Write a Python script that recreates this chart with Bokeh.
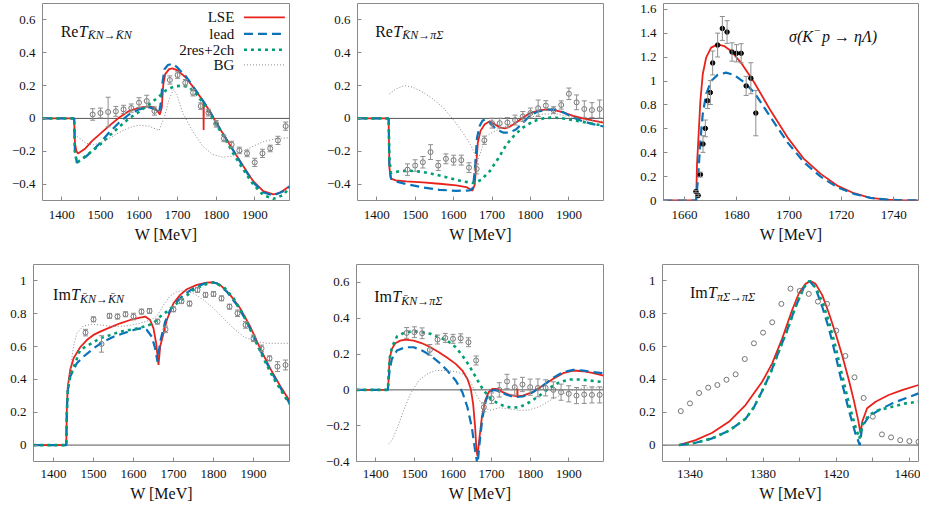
from bokeh.plotting import figure
from bokeh.models import (ColumnDataSource, Whisker, TeeHead, Span, Label, Arrow,
                          FixedTicker, Range1d)
from bokeh.layouts import row, column
from bokeh.embed import file_html
from bokeh.resources import INLINE

# ===================== DATA =====================
SERIES = ["LSE", "lead", "2res+2ch", "BG"]
W_GRID_PTS = [1480, 1500, 1520, 1540, 1560, 1580, 1600, 1620, 1640, 1660, 1680, 1700, 1720,
              1740, 1760, 1780, 1800, 1820, 1840, 1860, 1880, 1900, 1920, 1940, 1960, 1980]

# ---- Panel A: Re T(KbarN -> KbarN)
A_LSE_X = [1350, 1432, 1434, 1438, 1442, 1461, 1478, 1500, 1522, 1548, 1574, 1600, 1626, 1639, 1648,
           1654, 1659, 1663, 1668, 1678, 1687, 1700, 1722, 1743, 1765, 1767, 1767.5, 1768, 1783, 1800,
           1822, 1843, 1870, 1896, 1922, 1948, 1965, 1990]
A_LSE_Y = [0, 0, -0.15, -0.2, -0.213, -0.183, -0.138, -0.093, -0.047, 0.004, 0.045, 0.065, 0.073, 0.069, 0.045,
           0.024, 0.065, 0.207, 0.27, 0.30, 0.305, 0.293, 0.248, 0.183, 0.11, 0.105, -0.071, 0.1, 0.045, -0.026,
           -0.108, -0.189, -0.29, -0.382, -0.443, -0.463, -0.453, -0.413]
A_LEAD_X = [1350, 1432, 1434, 1439, 1461, 1478, 1500, 1522, 1548, 1574, 1600, 1626, 1643, 1652, 1657,
            1661, 1666, 1675, 1687, 1700, 1722, 1743, 1765, 1783, 1800, 1822, 1843, 1870, 1896, 1922,
            1948, 1974, 1990]
A_LEAD_Y = [0, 0, -0.2, -0.27, -0.236, -0.2, -0.148, -0.087, -0.026, 0.024, 0.055, 0.069, 0.055, 0.035, 0.1,
            0.22, 0.3, 0.325, 0.333, 0.309, 0.255, 0.185, 0.11, 0.045, -0.026, -0.11, -0.19, -0.295, -0.39, -0.45,
            -0.47, -0.443, -0.415]
A_2RES_X = [1350, 1432, 1434, 1439, 1478, 1500, 1522, 1548, 1574, 1600, 1626, 1648, 1670, 1691, 1713,
            1730, 1748, 1765, 1783, 1800, 1822, 1843, 1870, 1896, 1922, 1948, 1974, 1990]
A_2RES_Y = [0, 0, -0.2, -0.27, -0.2, -0.158, -0.108, -0.053, 0, 0.039, 0.085, 0.126, 0.171, 0.195, 0.2,
            0.19, 0.15, 0.096, 0.03, -0.037, -0.12, -0.209, -0.311, -0.402, -0.467, -0.49, -0.467, -0.42]
A_BG_X = [1434, 1461, 1478, 1500, 1522, 1548, 1574, 1600, 1626, 1652, 1665, 1678, 1689, 1698, 1713,
          1739, 1765, 1791, 1817, 1843, 1870, 1896, 1922, 1957, 1990]
A_BG_Y = [-0.1, -0.148, -0.163, -0.148, -0.122, -0.087, -0.057, -0.041, -0.047, -0.073, 0.004, 0.116, 0.175, 0.146, 0.035,
          -0.077, -0.169, -0.22, -0.236, -0.23, -0.2, -0.169, -0.142, -0.122, -0.118]
A_PTS_X = [w for w in W_GRID_PTS if w != 1660]
A_PTS_Y = [0.024, 0.033, 0.039, 0.043, 0.055, 0.063, 0.096, 0.106, 0.045, 0.234, 0.264, 0.217, 0.157,
           0.075, 0.035, -0.033, -0.122, -0.159, -0.195, -0.213, -0.268, -0.213, -0.183, -0.134, -0.047]
A_PTS_E = [0.035, 0.03, 0.09, 0.03, 0.025, 0.025, 0.03, 0.035, 0.025, 0.025, 0.02, 0.02, 0.02,
           0.02, 0.02, 0.02, 0.02, 0.02, 0.02, 0.02, 0.025, 0.025, 0.02, 0.025, 0.025]

# ---- Panel B: Re T(KbarN -> pi Sigma)
B_LSE_X = [1350, 1431, 1433, 1437, 1450, 1477, 1520, 1563, 1607, 1633, 1649, 1655, 1659, 1663, 1670,
           1681, 1694, 1707, 1720, 1733, 1746, 1763, 1781, 1798, 1820, 1842, 1863, 1885, 1911, 1937, 1963, 1990]
B_LSE_Y = [0, 0, -0.3, -0.367, -0.377, -0.384, -0.39, -0.398, -0.408, -0.418, -0.44, -0.404, -0.281, -0.148, -0.076,
           -0.035, -0.018, -0.035, -0.055, -0.06, -0.051, -0.025, 0.006, 0.031, 0.047, 0.055, 0.051, 0.037, 0.016, 0,
           -0.014, -0.025]
B_LEAD_X = [1350, 1431, 1433, 1437, 1450, 1477, 1520, 1563, 1607, 1642, 1650, 1655, 1661, 1668, 1675,
            1683, 1694, 1711, 1729, 1746, 1763, 1781, 1798, 1820, 1842, 1863, 1885, 1911, 1937, 1963, 1990]
B_LEAD_Y = [0, 0, -0.3, -0.367, -0.384, -0.4, -0.42, -0.435, -0.441, -0.439, -0.425, -0.322, -0.117, -0.045, -0.014,
            -0.004, -0.025, -0.066, -0.086, -0.086, -0.066, -0.025, 0.016, 0.043, 0.053, 0.053, 0.037, 0.006, -0.018,
            -0.035, -0.049]
B_2RES_X = [1350, 1431, 1433, 1437, 1459, 1485, 1520, 1555, 1590, 1624, 1655, 1672, 1694, 1716, 1737,
            1759, 1781, 1807, 1833, 1859, 1885, 1920, 1955, 1990]
B_2RES_Y = [0, 0, -0.25, -0.332, -0.322, -0.318, -0.326, -0.343, -0.363, -0.384, -0.394, -0.373, -0.322, -0.244, -0.162,
            -0.1, -0.055, -0.018, 0, 0.006, 0, -0.014, -0.029, -0.045]
B_BG_X = [1433, 1450, 1472, 1494, 1520, 1546, 1572, 1598, 1624, 1646, 1663, 1677, 1685, 1703, 1729,
          1763, 1798, 1833, 1868, 1903, 1937, 1990]
B_BG_Y = [0.15, 0.18, 0.2, 0.19, 0.16, 0.119, 0.068, -0.004, -0.086, -0.168, -0.26, -0.158, -0.107, -0.082, -0.055,
          -0.025, 0.006, 0.027, 0.027, 0.01, -0.01, -0.018]
B_PTS_X = W_GRID_PTS
B_PTS_Y = [-0.312, -0.287, -0.267, -0.205, -0.287, -0.246, -0.254, -0.254, -0.3, -0.308, -0.133, -0.029, -0.029,
           -0.025, -0.01, 0.012, 0.033, 0.062, 0.078, 0.051, 0.082, 0.15, 0.098, 0.057, 0.051, 0.057]
B_PTS_E = [0.035, 0.035, 0.035, 0.045, 0.03, 0.03, 0.03, 0.03, 0.03, 0.03, 0.025, 0.03, 0.03,
           0.03, 0.03, 0.03, 0.03, 0.05, 0.03, 0.02, 0.025, 0.035, 0.045, 0.05, 0.045, 0.055]

# ---- Panel C: sigma(K- p -> eta Lambda)
C_LSE_X = [1652, 1664.5, 1664.8, 1665.3, 1666.1, 1667.0, 1668.3, 1670.2, 1672.7, 1675.2, 1677.8, 1681.6,
           1686.7, 1693.0, 1699.4, 1705.7, 1712.1, 1718.4, 1724.8, 1731.1, 1737.5, 1743, 1749.5]
C_LSE_Y = [0, 0, 0.3, 0.5, 0.835, 1.057, 1.196, 1.28, 1.308, 1.294, 1.252, 1.155,
           0.988, 0.751, 0.529, 0.348, 0.223, 0.125, 0.061, 0.022, 0.008, 0.002, 0]
C_LEAD_X = [1652, 1664.5, 1665.3, 1666.1, 1667.0, 1668.3, 1670.2, 1672.7, 1675.9, 1679.0, 1682.9,
            1686.7, 1693.0, 1699.4, 1705.7, 1712.1, 1718.4, 1724.8, 1731.1, 1737.5, 1743, 1749.5]
C_LEAD_Y = [0, 0, 0.22, 0.5, 0.723, 0.89, 1.0, 1.052, 1.071, 1.052, 0.988,
            0.904, 0.696, 0.487, 0.32, 0.2, 0.111, 0.056, 0.022, 0.007, 0.002, 0]
C_PTS_X = [1664.4, 1665.3, 1666.1, 1667.1, 1668.0, 1668.9, 1669.9, 1670.8, 1672.7, 1674.5, 1676.3,
           1678.2, 1679.9, 1681.7, 1683.6, 1685.4, 1687.3]
C_PTS_Y = [0.075, 0.042, 0.217, 0.473, 0.604, 0.835, 0.904, 1.152, 1.302, 1.441, 1.411,
           1.244, 1.233, 1.233, 0.96, 1.024, 0.732]
C_PTS_E = [0.01, 0.01, 0.02, 0.07, 0.07, 0.065, 0.1, 0.1, 0.1, 0.1, 0.095,
           0.077, 0.072, 0.08, 0.08, 0.13, 0.19]

# ---- Panel D: Im T(KbarN -> KbarN)
D_LSE_X = [1350, 1432, 1433.3, 1435.8, 1441.7, 1450, 1466.7, 1483.3, 1500, 1516.7, 1541.7, 1566.7, 1591.7,
           1616.7, 1629.2, 1641.7, 1650, 1656.7, 1662.5, 1666.7, 1675, 1683.3, 1700, 1716.7, 1733.3, 1758.3,
           1783.3, 1800, 1816.7, 1841.7, 1866.7, 1891.7, 1916.7, 1941.7, 1966.7, 1990]
D_LSE_Y = [0, 0, 0.213, 0.356, 0.457, 0.528, 0.596, 0.64, 0.671, 0.691, 0.717, 0.742, 0.762,
           0.776, 0.783, 0.762, 0.711, 0.62, 0.488, 0.6, 0.681, 0.762, 0.864, 0.915, 0.949, 0.976,
           0.99, 0.992, 0.976, 0.915, 0.833, 0.722, 0.589, 0.467, 0.36, 0.27]
D_LEAD_X = [1350, 1432, 1433.3, 1435.8, 1441.7, 1458.3, 1475, 1500, 1525, 1550, 1575, 1600, 1616.7, 1633.3,
            1645.8, 1654.2, 1660, 1666.7, 1679.2, 1691.7, 1708.3, 1725, 1750, 1775, 1791.7, 1808.3, 1833.3,
            1858.3, 1883.3, 1908.3, 1933.3, 1958.3, 1990]
D_LEAD_Y = [0, 0, 0.2, 0.335, 0.417, 0.498, 0.539, 0.589, 0.63, 0.66, 0.681, 0.701, 0.711, 0.701,
            0.66, 0.589, 0.508, 0.63, 0.752, 0.823, 0.874, 0.915, 0.955, 0.982, 0.992, 0.986, 0.935,
            0.854, 0.752, 0.62, 0.498, 0.386, 0.255]
D_2RES_X = [1350, 1432, 1433.3, 1435.8, 1441.7, 1466.7, 1516.7, 1566.7, 1600, 1633.3, 1650, 1666.7, 1683.3,
            1700, 1725, 1750, 1775, 1800, 1825, 1850, 1875, 1900, 1925, 1950, 1990]
D_2RES_Y = [0, 0, 0.2, 0.335, 0.417, 0.58, 0.65, 0.691, 0.705, 0.726, 0.742, 0.783, 0.813,
            0.848, 0.894, 0.945, 0.976, 0.99, 0.965, 0.894, 0.793, 0.661, 0.528, 0.407, 0.25]
D_BG_X = [1433, 1441.7, 1450, 1458.3, 1475, 1495.8, 1516.7, 1550, 1583.3, 1616.7, 1641.7, 1658.3, 1675,
          1691.7, 1708.3, 1725, 1750, 1775, 1800, 1825, 1850, 1875, 1900, 1933.3, 1990]
D_BG_Y = [0.3, 0.457, 0.6, 0.681, 0.726, 0.736, 0.732, 0.722, 0.726, 0.742, 0.762, 0.783, 0.854,
          0.909, 0.935, 0.941, 0.925, 0.884, 0.833, 0.772, 0.711, 0.661, 0.634, 0.62, 0.62]
D_PTS_X = W_GRID_PTS
D_PTS_Y = [0.685, 0.766, 0.616, 0.787, 0.783, 0.797, 0.783, 0.813, 0.817, 0.752, 0.705, 0.827, 0.877,
           0.862, 0.945, 0.915, 0.92, 0.894, 0.843, 0.803, 0.732, 0.65, 0.589, 0.528, 0.478, 0.488]
D_PTS_E = [0.02, 0.015, 0.05, 0.015, 0.015, 0.015, 0.02, 0.015, 0.015, 0.015, 0.02, 0.015, 0.015,
           0.015, 0.015, 0.015, 0.015, 0.015, 0.015, 0.02, 0.02, 0.02, 0.02, 0.015, 0.03, 0.03]

# ---- Panel E: Im T(KbarN -> pi Sigma)
E_LSE_X = [1350, 1431.3, 1433, 1435.7, 1441.7, 1450.4, 1463.5, 1476.5, 1498.3, 1520, 1541.7, 1563.5, 1585.2,
           1607, 1624.3, 1637.4, 1646.1, 1652.2, 1657.4, 1660.9, 1663.5, 1667.8, 1674.8, 1683.5, 1692.2,
           1702.6, 1715.7, 1728.7, 1746.1, 1763.5, 1766.5, 1767, 1767.5, 1780.9, 1807, 1833, 1859.1,
           1885.2, 1911.3, 1937.4, 1963.5, 1990]
E_LSE_Y = [0, 0, 0.052, 0.173, 0.229, 0.26, 0.275, 0.281, 0.275, 0.26, 0.238, 0.21, 0.179,
           0.145, 0.108, 0.061, 0.006, -0.078, -0.208, -0.339, -0.37, -0.283, -0.153, -0.06, -0.013,
           0.006, 0.006, -0.013, -0.028, -0.035, -0.036, 0.006, -0.036, -0.032, -0.013, 0.024, 0.061,
           0.093, 0.108, 0.104, 0.093, 0.08]
E_LEAD_X = [1350, 1431.3, 1433, 1435.7, 1441.7, 1454.8, 1476.5, 1498.3, 1520, 1541.7, 1563.5, 1585.2, 1607,
            1624.3, 1637.4, 1648.7, 1657.4, 1663.5, 1669.6, 1676.5, 1685.2, 1693.9, 1707, 1720, 1737.4,
            1759.1, 1780.9, 1807, 1833, 1859.1, 1885.2, 1911.3, 1937.4, 1963.5, 1990]
E_LEAD_Y = [0, 0, 0.05, 0.108, 0.173, 0.22, 0.238, 0.238, 0.22, 0.192, 0.154, 0.108, 0.052,
            -0.013, -0.097, -0.208, -0.339, -0.42, -0.283, -0.153, -0.06, -0.013, 0, -0.007, -0.026,
            -0.041, -0.037, -0.013, 0.024, 0.067, 0.099, 0.112, 0.108, 0.099, 0.093]
E_2RES_X = [1350, 1431.3, 1433, 1435.7, 1441.7, 1454.8, 1476.5, 1498.3, 1520, 1541.7, 1563.5, 1585.2, 1607,
            1624.3, 1641.7, 1659.1, 1676.5, 1693.9, 1711.3, 1728.7, 1750.4, 1772.2, 1798.3, 1824.3, 1850.4,
            1876.5, 1902.6, 1928.7, 1954.8, 1990]
E_2RES_Y = [0, 0, 0.08, 0.173, 0.238, 0.298, 0.322, 0.327, 0.322, 0.313, 0.294, 0.275, 0.238,
            0.192, 0.136, 0.071, 0.006, -0.041, -0.069, -0.087, -0.1, -0.097, -0.069, -0.032, 0.011,
            0.043, 0.058, 0.058, 0.052, 0.043]
E_BG_X = [1433, 1441.7, 1454.8, 1472.2, 1489.6, 1511.3, 1533, 1554.8, 1580.9, 1607, 1628.7, 1646.1, 1663.5,
          1680.9, 1693.9, 1720, 1746.1, 1772.2, 1798.3, 1824.3, 1850.4, 1876.5, 1902.6, 1937.4, 1990]
E_BG_Y = [-0.301, -0.283, -0.218, -0.115, -0.022, 0.052, 0.089, 0.108, 0.108, 0.102, 0.086, 0.043, -0.041,
          -0.097, -0.115, -0.1, -0.106, -0.115, -0.112, -0.093, -0.06, -0.032, -0.004, 0.011, 0.011]
E_PTS_X = W_GRID_PTS
E_PTS_Y = [0.318, 0.322, 0.316, 0.223, 0.281, 0.29, 0.285, 0.288, 0.266, 0.164, -0.097, -0.047, 0.0,
           0.047, 0.015, 0.03, 0.015, 0.011, 0.011, 0.0, -0.013, -0.022, -0.032, -0.026, -0.028, -0.028]
E_PTS_E = [0.03, 0.03, 0.03, 0.03, 0.025, 0.025, 0.025, 0.025, 0.025, 0.025, 0.025, 0.03, 0.04,
           0.04, 0.045, 0.04, 0.045, 0.05, 0.045, 0.045, 0.045, 0.045, 0.045, 0.05, 0.045, 0.045]

# ---- Panel F: Im T(pi Sigma -> pi Sigma)
F_LSE_X = [1334, 1343.1, 1352.2, 1361.3, 1370.4, 1379.5, 1385, 1390.5, 1395.9, 1399.6, 1403.2, 1405.9,
           1408.7, 1412.3, 1416, 1419.6, 1423.2, 1426.9, 1429.6, 1432, 1433.3, 1434.2, 1436.9, 1441.5,
           1448.7, 1456, 1465]
F_LSE_Y = [0, 0.03, 0.075, 0.142, 0.244, 0.386, 0.498, 0.65, 0.823, 0.925, 0.982, 1.0,
           0.982, 0.915, 0.803, 0.681, 0.549, 0.396, 0.274, 0.152, 0.071, 0.142, 0.224, 0.264,
           0.305, 0.335, 0.366]
F_LEAD_X = [1334, 1343.1, 1352.2, 1361.3, 1370.4, 1375, 1379.5, 1384.1, 1388.6, 1393.2, 1397.7, 1402.3,
            1405.4, 1408.7, 1412.3, 1416, 1419.6, 1423.2, 1426.9, 1430.5, 1432.9, 1434.2, 1437.8, 1443.3,
            1450.6, 1457.9, 1465]
F_LEAD_Y = [0, 0.014, 0.041, 0.087, 0.16, 0.23, 0.33, 0.44, 0.57, 0.7, 0.84, 0.96,
            1.0, 0.955, 0.844, 0.711, 0.549, 0.376, 0.213, 0.071, 0.0, 0.112, 0.173, 0.213,
            0.254, 0.285, 0.315]
F_2RES_X = [1334, 1343.1, 1352.2, 1361.3, 1370.4, 1375, 1379.5, 1384.1, 1388.6, 1393.2, 1397.7, 1402.3,
            1405.4, 1408.7, 1412.3, 1416, 1419.6, 1423.2, 1426.9, 1430.5, 1432.7, 1434.2, 1437.8, 1443.3,
            1450.6, 1457.9, 1465]
F_2RES_Y = [0, 0.014, 0.041, 0.087, 0.16, 0.23, 0.33, 0.44, 0.57, 0.7, 0.84, 0.96,
            1.0, 0.96, 0.874, 0.752, 0.6, 0.427, 0.254, 0.112, 0.04, 0.122, 0.183, 0.213,
            0.234, 0.254, 0.264]
F_PTS_X = [1335, 1340, 1345, 1350, 1355, 1360, 1365, 1370, 1375, 1380, 1385, 1390, 1395, 1400,
           1405, 1410, 1415, 1420, 1425, 1430, 1435, 1440, 1445, 1450, 1455, 1460, 1465]
F_PTS_Y = [0.207, 0.254, 0.317, 0.35, 0.366, 0.398, 0.431, 0.524, 0.62, 0.685, 0.748, 0.86, 0.953, 0.939,
           0.921, 0.874, 0.86, 0.697, 0.543, 0.413, 0.287, 0.173, 0.065, 0.047, 0.03, 0.024, 0.02]

# ---- ticks
X_TICKS_W = [1400, 1500, 1600, 1700, 1800, 1900]
X_TICKS_C = [1660, 1680, 1700, 1720, 1740]
X_TICKS_F = [1340, 1380, 1420, 1460]
X_MINOR_F = [1360, 1400, 1440]
Y_TICKS_AB = [-0.4, -0.2, 0, 0.2, 0.4, 0.6]
Y_LABELS_AB = ["\u22120.4", "\u22120.2", "0", "0.2", "0.4", "0.6"]
Y_TICKS_C = [0, 0.2, 0.4, 0.6, 0.8, 1, 1.2, 1.4, 1.6]
Y_LABELS_C = ["0", "0.2", "0.4", "0.6", "0.8", "1", "1.2", "1.4", "1.6"]
Y_TICKS_DF = [0, 0.2, 0.4, 0.6, 0.8, 1]
Y_LABELS_DF = ["0", "0.2", "0.4", "0.6", "0.8", "1"]
Y_TICKS_E = [-0.4, -0.2, 0, 0.2, 0.4, 0.6]
Y_LABELS_E = ["\u22120.4", "\u22120.2", "0", "0.2", "0.4", "0.6"]

# ===================== STYLE =====================
FONT = "Liberation Serif"
FRAME = "#8a8a8a"
TXT = "#111111"
RED, BLUE, GREEN, BGC = "#e8221c", "#0a72b8", "#009e73", "#8a8a8a"
PTC, BARC = "#767676", "#8e8e8e"
STYLES = {
    "LSE": dict(line_color=RED, line_width=1.8),
    "lead": dict(line_color=BLUE, line_width=2.2, line_dash="9 5"),
    "2res+2ch": dict(line_color=GREEN, line_width=2.6, line_dash="3 4"),
    "BG": dict(line_color=BGC, line_width=1, line_dash="1 2"),
}


def make_panel(width, height, borders, xr, yr, xticks, yticks, ylabels, xstand, lstand,
               xminor=None, zero=True):
    left, right, top, bottom = borders
    p = figure(width=width, height=height, x_range=Range1d(*xr), y_range=Range1d(*yr),
               output_backend="svg", toolbar_location=None,
               min_border_left=left, min_border_right=right,
               min_border_top=top, min_border_bottom=bottom)
    p.grid.visible = False
    p.outline_line_color = FRAME
    p.outline_line_width = 1
    p.xaxis.ticker = FixedTicker(ticks=xticks, minor_ticks=xminor or [])
    p.yaxis.ticker = FixedTicker(ticks=yticks)
    p.yaxis.major_label_overrides = dict(zip(yticks, ylabels))
    for ax in (p.xaxis[0], p.yaxis[0]):
        ax.axis_line_color = None
        ax.major_tick_in = 4
        ax.major_tick_out = 0
        ax.major_tick_line_color = FRAME
        ax.minor_tick_in = 4
        ax.minor_tick_out = 0
        ax.minor_tick_line_color = FRAME if (xminor and ax is p.xaxis[0]) else None
        ax.major_label_text_font = FONT
        ax.major_label_text_font_size = "13px"
        ax.major_label_text_color = TXT
    p.yaxis.major_label_standoff = 7
    p.xaxis.major_label_standoff = xstand
    p.xaxis.axis_label = "W [MeV]"
    p.xaxis.axis_label_text_font = FONT
    p.xaxis.axis_label_text_font_style = "normal"
    p.xaxis.axis_label_text_font_size = "16px"
    p.xaxis.axis_label_text_color = TXT
    p.xaxis.axis_label_standoff = lstand
    if zero:
        p.add_layout(Span(location=0, dimension="width", line_color="#555555",
                          line_width=1, level="underlay"))
    return p


def add_curves(p, series):
    for name, xs, ys in series:
        p.line(xs, ys, **STYLES[name])


def add_points(p, xs, ys, es=None, fill=None, color=PTC, size=5):
    data = dict(x=xs, y=ys)
    if es is not None:
        data["lo"] = [y - e for y, e in zip(ys, es)]
        data["hi"] = [y + e for y, e in zip(ys, es)]
    src = ColumnDataSource(data)
    if es is not None:
        p.add_layout(Whisker(source=src, base="x", lower="lo", upper="hi", line_color=BARC,
                             line_width=1, level="glyph",
                             lower_head=TeeHead(size=5, line_color=BARC, line_width=1),
                             upper_head=TeeHead(size=5, line_color=BARC, line_width=1)))
    p.scatter("x", "y", source=src, marker="circle", size=size,
              fill_color=fill, line_color=color, line_width=1)


def add_title(p, x, y, prefix, sub):
    p.add_layout(Label(x=x, y=y, text=prefix, text_font=FONT, text_font_size="16px",
                       text_baseline="alphabetic", text_color=TXT))
    p.add_layout(Label(x=x, y=y, x_offset=18, text="T", text_font=FONT, text_font_size="16px",
                       text_font_style="italic", text_baseline="alphabetic", text_color=TXT))
    p.add_layout(Label(x=x, y=y, x_offset=27, y_offset=-4, text=sub, text_font=FONT,
                       text_font_size="12px", text_font_style="italic",
                       text_baseline="alphabetic", text_color=TXT))


KN = "K\u0304N"
PS = "\u03c0\u03a3"
ARW = "\u2192"
W_RANGE = (1350, 1990)
TOP_H, BOT_H = 258, 248

# ---- Panel A
pA = make_panel(300, TOP_H, (42, 11, 3, 58), W_RANGE, (-0.5, 0.7), X_TICKS_W, Y_TICKS_AB, Y_LABELS_AB, 10, 4)
add_curves(pA, [("LSE", A_LSE_X, A_LSE_Y), ("lead", A_LEAD_X, A_LEAD_Y),
                ("2res+2ch", A_2RES_X, A_2RES_Y), ("BG", A_BG_X, A_BG_Y)])
add_points(pA, A_PTS_X, A_PTS_Y, A_PTS_E)
add_title(pA, 1397, 0.53, "Re", KN + ARW + KN)
LEG_TEXT_X, LEG_X0, LEG_X1 = 1847, 1872, 1978
LEG_Y = [0.615, 0.515, 0.418, 0.326]
for name, ly in zip(SERIES, LEG_Y):
    pA.add_layout(Label(x=LEG_TEXT_X, y=ly, text=name, text_align="right", text_baseline="middle",
                        text_font=FONT, text_font_size="15px", text_color=TXT))
    pA.add_layout(Arrow(end=None, x_start=LEG_X0, y_start=ly, x_end=LEG_X1, y_end=ly, **STYLES[name]))

# ---- Panel B
pB = make_panel(312, TOP_H, (57, 9, 3, 58), W_RANGE, (-0.5, 0.7), X_TICKS_W, Y_TICKS_AB, Y_LABELS_AB, 10, 4)
add_curves(pB, [("LSE", B_LSE_X, B_LSE_Y), ("lead", B_LEAD_X, B_LEAD_Y),
                ("2res+2ch", B_2RES_X, B_2RES_Y), ("BG", B_BG_X, B_BG_Y)])
add_points(pB, B_PTS_X, B_PTS_Y, B_PTS_E)
add_title(pB, 1396, 0.53, "Re", KN + ARW + PS)

# ---- Panel C
pC = make_panel(308, TOP_H, (51, 2, 3, 58), (1652, 1749.5), (0, 1.65), X_TICKS_C, Y_TICKS_C, Y_LABELS_C, 10, 4,
                zero=False)
add_curves(pC, [("LSE", C_LSE_X, C_LSE_Y), ("lead", C_LEAD_X, C_LEAD_Y)])
add_points(pC, C_PTS_X, C_PTS_Y, C_PTS_E, fill="black", color="black", size=4.5)
C_TITLE_X, C_TITLE_Y = 1700, 1.37
pC.add_layout(Label(x=C_TITLE_X, y=C_TITLE_Y, text="\u03c3(K", text_baseline="alphabetic",
                    text_font=FONT, text_font_size="16px", text_font_style="italic", text_color=TXT))
pC.add_layout(Label(x=C_TITLE_X, y=C_TITLE_Y, x_offset=25, y_offset=6, text="\u2212",
                    text_baseline="alphabetic", text_font=FONT, text_font_size="11px", text_color=TXT))
pC.add_layout(Label(x=C_TITLE_X, y=C_TITLE_Y, x_offset=33, text="p \u2192 \u03b7\u039b)",
                    text_baseline="alphabetic", text_font=FONT, text_font_size="16px",
                    text_font_style="italic", text_color=TXT))

# ---- Panel D
pD = make_panel(300, BOT_H, (33, 11, 6, 45), W_RANGE, (-0.1, 1.1), X_TICKS_W, Y_TICKS_DF, Y_LABELS_DF, 8, 4)
add_curves(pD, [("LSE", D_LSE_X, D_LSE_Y), ("lead", D_LEAD_X, D_LEAD_Y),
                ("2res+2ch", D_2RES_X, D_2RES_Y), ("BG", D_BG_X, D_BG_Y)])
add_points(pD, D_PTS_X, D_PTS_Y, D_PTS_E)
add_title(pD, 1399, 0.915, "Im", KN + ARW + KN)

# ---- Panel E
pE = make_panel(312, BOT_H, (56, 9, 6, 45), W_RANGE, (-0.4, 0.7), X_TICKS_W, Y_TICKS_E, Y_LABELS_E, 8, 4)
add_curves(pE, [("LSE", E_LSE_X, E_LSE_Y), ("lead", E_LEAD_X, E_LEAD_Y),
                ("2res+2ch", E_2RES_X, E_2RES_Y), ("BG", E_BG_X, E_BG_Y)])
add_points(pE, E_PTS_X, E_PTS_Y, E_PTS_E)
add_title(pE, 1396, 0.52, "Im", KN + ARW + PS)

# ---- Panel F
pF = make_panel(308, BOT_H, (50, 2, 6, 45), (1325, 1465), (-0.1, 1.1), X_TICKS_F, Y_TICKS_DF, Y_LABELS_DF, 8, 4,
                xminor=X_MINOR_F)
add_curves(pF, [("LSE", F_LSE_X, F_LSE_Y), ("lead", F_LEAD_X, F_LEAD_Y), ("2res+2ch", F_2RES_X, F_2RES_Y)])
add_points(pF, F_PTS_X, F_PTS_Y)
add_title(pF, 1340, 0.929, "Im", PS + ARW + PS)

layout = column(row(pA, pB, pC), row(pD, pE, pF))
open("out.html", "w").write(file_html(layout, INLINE))
